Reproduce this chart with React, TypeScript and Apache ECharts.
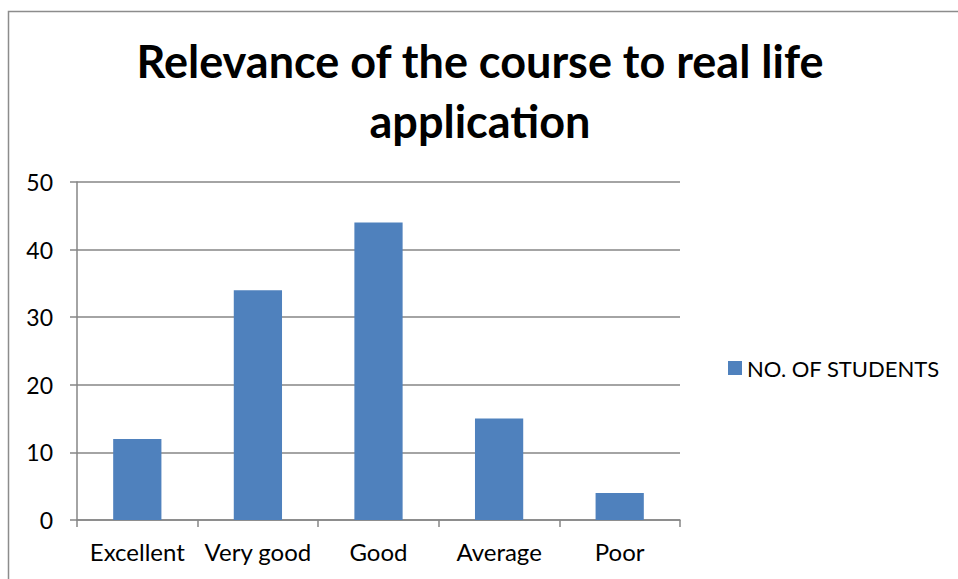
import React, { useEffect, useRef } from "react";
import * as echarts from "echarts";

const categories = ["Excellent", "Very good", "Good", "Average", "Poor"];
const students = [12, 34, 44, 15, 4];
const seriesName = "NO. OF STUDENTS";
const titleText = "Relevance of the course to real life\napplication";

export default function App() {
  const ref = useRef<HTMLDivElement>(null);
  useEffect(() => {
    document.body.style.margin = "0";
    const chart = echarts.init(ref.current!, null, { renderer: "svg" });
    const font = "Lato, 'Liberation Sans', sans-serif";
    chart.setOption({
      animation: false,
      backgroundColor: "#fff",
      textStyle: { fontFamily: font },
      title: {
        text: titleText,
        left: 475,
        textAlign: "center",
        top: 26,
        textStyle: { fontSize: 45, fontWeight: "bold", color: "#000", lineHeight: 60, fontFamily: font },
      },
      graphic: [
        {
          type: "rect",
          shape: { x: 8.5, y: 11.5, width: 1200, height: 1000 },
          style: { fill: "none", stroke: "#8c8c8c", lineWidth: 1.5 },
          silent: true,
        },
      ],
      legend: {
        left: 723,
        top: 352,
        itemWidth: 14,
        itemHeight: 14,
        icon: "rect",
        itemGap: 8,
        textStyle: { fontSize: 22, color: "#000", fontFamily: font },
        data: [seriesName],
      },
      grid: { left: 77, right: 278, top: 182, bottom: 59, containLabel: false },
      xAxis: {
        type: "category",
        data: categories,
        axisLine: { show: true, lineStyle: { color: "#868686", width: 1.5 } },
        axisTick: { show: true, alignWithLabel: false, length: 7, lineStyle: { color: "#868686", width: 1.5 } },
        axisLabel: { fontSize: 24, color: "#000", margin: 19, interval: 0, fontFamily: font },
      },
      yAxis: {
        type: "value",
        min: 0,
        max: 50,
        interval: 10,
        axisLine: { show: true, lineStyle: { color: "#868686", width: 1.5 } },
        axisTick: { show: true, length: 7, lineStyle: { color: "#868686", width: 1.5 } },
        axisLabel: { fontSize: 23, color: "#000", margin: 24, fontFamily: font },
        splitLine: { show: true, lineStyle: { color: "#868686", width: 1.5 } },
      },
      series: [
        {
          name: seriesName,
          type: "bar",
          data: students,
          barCategoryGap: "60%",
          itemStyle: { color: "#4F81BD" },
        },
      ],
    });
    return () => chart.dispose();
  }, []);
  return <div ref={ref} style={{ width: 958, height: 579 }} />;
}
